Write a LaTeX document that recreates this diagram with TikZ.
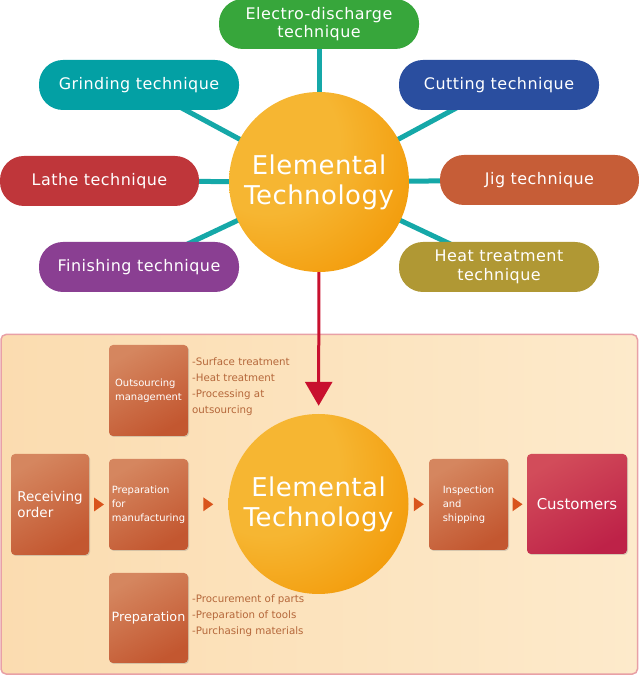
\documentclass[tikz,border=0pt]{standalone}
\usepackage{fontspec}
\setmainfont{DejaVu Sans}
\usetikzlibrary{arrows.meta,shadows,backgrounds}
\definecolor{edmgreen}{HTML}{37A63B}
\definecolor{grindteal}{HTML}{03A0A4}
\definecolor{cutblue}{HTML}{2A4E9F}
\definecolor{lathered}{HTML}{BF363A}
\definecolor{jigorange}{HTML}{C65D37}
\definecolor{finishpurple}{HTML}{8A3F92}
\definecolor{heatolive}{HTML}{B09834}
\definecolor{spoketeal}{HTML}{15A8A8}
\definecolor{balllight}{HTML}{F6B632}
\definecolor{balldark}{HTML}{F29400}
\definecolor{arrowred}{HTML}{C8102E}
\definecolor{boxlight}{HTML}{D5865F}
\definecolor{boxdark}{HTML}{C35730}
\definecolor{custlight}{HTML}{D24C5A}
\definecolor{custdark}{HTML}{BE2248}
\definecolor{panellight}{HTML}{FBDCB0}
\definecolor{panelpale}{HTML}{FDEACB}
\definecolor{panelpink}{HTML}{E8A0A6}
\definecolor{tipfill}{HTML}{D9541C}
\definecolor{listbrown}{HTML}{B5673A}
\pgfdeclareradialshading{techball}{\pgfpoint{-18bp}{14bp}}{color(0bp)=(balllight);color(20bp)=(balllight);color(46bp)=(balldark);color(100bp)=(balldark)}
\tikzset{
  pill/.style={draw=none,rounded corners=24bp,minimum width=200bp,minimum height=50bp,
    inner sep=0pt,text=white,align=center,
    font=\fontsize{16}{18.5}\selectfont\addfontfeature{LetterSpace=3}},
  tech/.style={circle,draw=none,shade,shading=techball,minimum size=180bp,inner sep=0pt,
    text=white,align=center,font=\fontsize{26}{30}\selectfont\addfontfeature{LetterSpace=2}},
  stepbox/.style={draw=none,rounded corners=4bp,minimum width=79bp,minimum height=91bp,
    inner sep=0pt,top color=boxlight,bottom color=boxdark,shading angle=30,
    text=white,align=left,font=\fontsize{10}{14}\selectfont,
    drop shadow={shadow xshift=1bp,shadow yshift=-1bp,opacity=.3}},
  custbox/.style={stepbox,top color=custlight,bottom color=custdark,shading angle=30},
  listtext/.style={anchor=north west,inner sep=0pt,text=listbrown,align=left,
    font=\fontsize{10.3}{16}\selectfont},
  spoke/.style={line width=5bp,draw=spoketeal},
  linkline/.style={line width=3bp,draw=boxdark},
}
\begin{document}
\begin{tikzpicture}[>=latex,line join=bevel,]
\useasboundingbox (0bp,0bp) rectangle (639bp,675bp);
%%
\draw [draw=panelpink,line width=1.5bp,rounded corners=5bp,left color=panellight,right color=panelpale] (1bp,1bp) rectangle (637.5bp,340.5bp);
%% elemental technology and its techniques
\node (node_tech) at (319bp,493bp) [tech] {Elemental\\Technology};
  \node (node_edm) at (319bp,651bp) [pill,fill=edmgreen] {Electro-discharge\\technique};
  \node (node_grind) at (139bp,590bp) [pill,fill=grindteal] {Grinding technique};
  \node (node_cut) at (499bp,590bp) [pill,fill=cutblue] {Cutting technique};
  \node (node_lathe) at (99.5bp,494bp) [pill,minimum width=199bp,fill=lathered] {Lathe technique};
  \node (node_jig) at (539.5bp,495bp) [pill,minimum width=199bp,fill=jigorange] {Jig technique};
  \node (node_finish) at (139bp,408bp) [pill,fill=finishpurple] {Finishing technique};
  \node (node_heat) at (499bp,408bp) [pill,fill=heatolive] {Heat treatment\\technique};
\begin{pgfonlayer}{background}
  \foreach \n in {node_edm,node_grind,node_cut,node_lathe,node_jig,node_finish,node_heat}
    \draw [spoke] (node_tech.center) -- (\n.center);
\end{pgfonlayer}
%% flow
\node (node_recv) at (50bp,170.5bp) [stepbox,minimum width=78bp,minimum height=101bp,font=\fontsize{13.5}{16}\selectfont] {Receiving\\order};
  \node (node_outs) at (148.5bp,284.5bp) [stepbox] {Outsourcing\\management};
  \node (node_prepm) at (148.5bp,170.5bp) [stepbox] {Preparation\\for\\manufacturing};
  \node (node_prep) at (148.5bp,57bp) [stepbox,minimum height=90bp,font=\fontsize{12.8}{15}\selectfont] {Preparation};
  \node (node_techb) at (318.5bp,171bp) [tech] {Elemental\\Technology};
  \node (node_insp) at (468.5bp,170.5bp) [stepbox] {Inspection\\and\\shipping};
  \node (node_cust) at (577bp,171bp) [custbox,minimum width=100bp,minimum height=100bp,font=\fontsize{15}{18}\selectfont] {Customers};
  \node (node_outslist) at (192bp,317bp) [listtext] {-Surface treatment\\-Heat treatment\\-Processing at\\outsourcing};
  \node (node_preplist) at (192bp,80bp) [listtext] {-Procurement of parts\\-Preparation of tools\\-Purchasing materials};
\begin{pgfonlayer}{background}
  \draw [linkline] (node_outs) -- (node_prepm);
  \draw [linkline] (node_prepm) -- (node_prep);
\end{pgfonlayer}
  \foreach \a/\b [count=\i] in {node_recv/node_prepm,node_prepm/node_techb,node_techb/node_insp,node_insp/node_cust} {
    \path (\a) -- (\b) coordinate [midway] (tip_\i);
    \fill [tipfill] (tip_\i) ++(-5bp,7bp) -- ++(10bp,-7bp) -- ++(-10bp,-7bp) -- cycle;
  }
  \draw [draw=arrowred,line width=3bp,-{Triangle[length=24bp,width=27bp]},shorten >=8bp] (node_tech) -- (node_techb);
%
\end{tikzpicture}
\end{document}
